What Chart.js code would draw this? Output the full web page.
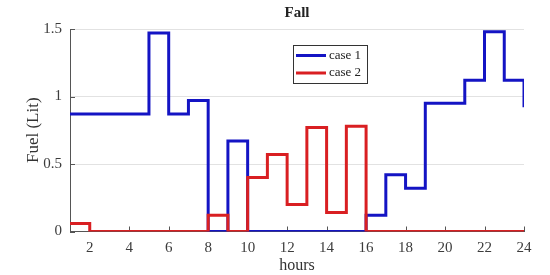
<!DOCTYPE html>
<html><head><meta charset="utf-8">
<script src="https://cdn.jsdelivr.net/npm/chart.js@4"></script>
<style>html,body{margin:0;padding:0;background:#fff}</style>
</head><body>
<canvas id="c" width="550" height="275"></canvas>
<script>
const hours = [1,2,3,4,5,6,7,8,9,10,11,12,13,14,15,16,17,18,19,20,21,22,23,24];
const case1 = [0.87,0.87,0.87,0.87,1.47,0.87,0.97,0,0.67,0,0,0,0,0,0,0.12,0.42,0.32,0.95,0.95,1.12,1.48,1.12,0.92];
const case2 = [0.06,0,0,0,0,0,0,0.12,0,0.40,0.57,0.20,0.77,0.14,0.78,0,0,0,0,0,0,0,0,0];
const xTicks = [2,4,6,8,10,12,14,16,18,20,22,24];
const yTicks = [0,0.5,1,1.5];
const seriesNames = ['case 1','case 2'];
const seriesColors = ['#1414c4','#d91f22'];
const FONT = 'Liberation Serif';

const innerTicks = {
  id:'innerTicks',
  beforeDatasetsDraw(chart){
    const ctx = chart.ctx, ca = chart.chartArea, xs = chart.scales.x, ys = chart.scales.y;
    ctx.save();
    ctx.strokeStyle = '#555'; ctx.lineWidth = 1;
    ctx.beginPath();
    xs.ticks.forEach(t => { const px = Math.round(xs.getPixelForValue(t.value)) + 0.5; ctx.moveTo(px, ca.bottom); ctx.lineTo(px, ca.bottom - 5); });
    ys.ticks.forEach(t => { const py = Math.round(ys.getPixelForValue(t.value)) + 0.5; ctx.moveTo(ca.left, py); ctx.lineTo(ca.left + 5, py); });
    ctx.stroke();
    ctx.restore();
  }
};

const boxLegend = {
  id:'boxLegend',
  afterDatasetsDraw(chart){
    const ctx = chart.ctx;
    const L = 293, T = 45, W = 74, H = 38;
    ctx.save();
    ctx.fillStyle = '#fff';
    ctx.fillRect(L, T, W, H);
    ctx.strokeStyle = '#333'; ctx.lineWidth = 1;
    ctx.strokeRect(L + 0.5, T + 0.5, W, H);
    chart.data.datasets.forEach((ds, i) => {
      const y = T + 10.5 + i * 17.5;
      ctx.strokeStyle = ds.borderColor; ctx.lineWidth = 3;
      ctx.beginPath(); ctx.moveTo(L + 3, y); ctx.lineTo(L + 33, y); ctx.stroke();
      ctx.fillStyle = '#222';
      ctx.font = '13px "' + FONT + '"';
      ctx.textBaseline = 'middle'; ctx.textAlign = 'left';
      ctx.fillText(ds.label, L + 36, y);
    });
    ctx.restore();
  }
};

new Chart(document.getElementById('c'), {
  type:'line',
  data:{
    datasets:[
      {label:seriesNames[0], data:hours.map((h,i)=>({x:h,y:case1[i]})), borderColor:seriesColors[0], borderWidth:3, pointRadius:0, stepped:true, fill:false, order:1},
      {label:seriesNames[1], data:hours.map((h,i)=>({x:h,y:case2[i]})), borderColor:seriesColors[1], borderWidth:3, pointRadius:0, stepped:true, fill:false, order:0}
    ]
  },
  options:{
    responsive:false, animation:false,
    layout:{padding:{left:0,right:26,top:0,bottom:0}},
    plugins:{
      legend:{display:false},
      tooltip:{enabled:false},
      title:{display:true, text:'Fall', fullSize:false, color:'#222', font:{family:FONT,size:15,weight:'bold'}, padding:{top:4,bottom:7}}
    },
    scales:{
      x:{
        type:'linear', min:1, max:24,
        afterBuildTicks:s=>{ s.ticks = xTicks.map(v=>({value:v})); },
        afterFit:s=>{ s.height = 43.5; },
        grid:{display:false, drawTicks:false},
        border:{display:true, color:'#555', width:1},
        ticks:{font:{family:FONT,size:15}, color:'#3c3c3c', padding:8, maxRotation:0, autoSkip:false},
        title:{display:true, text:'hours', color:'#333', font:{family:FONT,size:16}, padding:{top:0,bottom:0}}
      },
      y:{
        min:0, max:1.5,
        afterBuildTicks:s=>{ s.ticks = yTicks.map(v=>({value:v})); },
        afterFit:s=>{ s.width = 70; },
        grid:{display:true, drawTicks:false, color:'#e2e2e2', lineWidth:1},
        border:{display:true, color:'#555', width:1},
        ticks:{font:{family:FONT,size:15}, color:'#3c3c3c', padding:8, callback:v=>String(v)},
        title:{display:true, text:'Fuel (Lit)', color:'#333', font:{family:FONT,size:17}, padding:{top:23,bottom:0}}
      }
    }
  },
  plugins:[innerTicks, boxLegend]
});
</script>
</body></html>
